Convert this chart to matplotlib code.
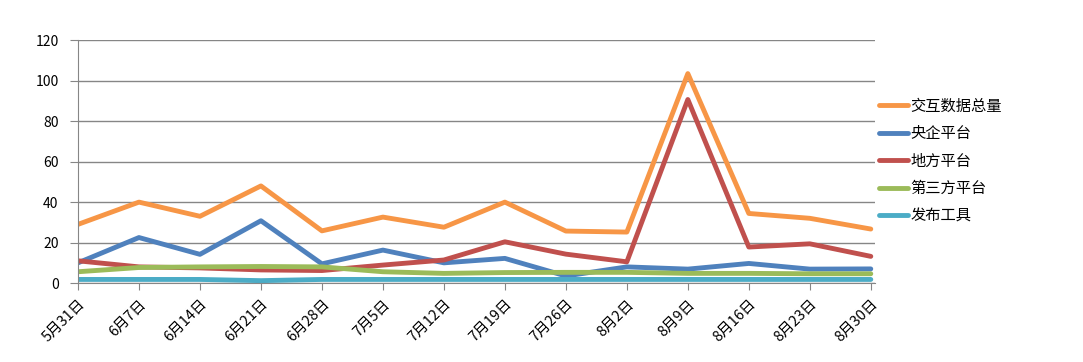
import matplotlib.pyplot as plt
import numpy as np

plt.rcParams['font.family'] = ['Noto Sans CJK SC', 'DejaVu Sans']

dates = ["5月31日", "6月7日", "6月14日", "6月21日", "6月28日", "7月5日", "7月12日",
         "7月19日", "7月26日", "8月2日", "8月9日", "8月16日", "8月23日", "8月30日"]

total = [29, 40, 33, 48, 25.8, 32.6, 27.6, 40, 25.7, 25.2, 103.5, 34.4, 32, 26.7]
central = [10, 22.5, 14.2, 30.8, 9.5, 16.3, 10, 12.2, 3.5, 8, 6.9, 9.7, 6.9, 7]
local = [11, 8, 7.5, 6.5, 6.2, 8.9, 11.4, 20.4, 14.3, 10.5, 90.7, 17.8, 19.4, 13.2]
third = [5.6, 7.7, 8, 8.2, 8, 5.6, 4.8, 5.2, 5.3, 5.3, 4.8, 4.8, 4.6, 4.6]
tools = [1.8, 1.8, 1.8, 1.2, 1.8, 1.8, 1.8, 1.8, 1.8, 1.8, 1.8, 1.8, 1.8, 1.8]

series = [
    ("交互数据总量", total, "#F79646"),
    ("央企平台", central, "#4F81BD"),
    ("地方平台", local, "#C0504D"),
    ("第三方平台", third, "#9BBB59"),
    ("发布工具", tools, "#4BACC6"),
]

fig = plt.figure(figsize=(10.83, 3.62), dpi=100)
ax = fig.add_axes([0.072, 0.218, 0.736, 0.671])

x = np.arange(len(dates))
for name, vals, col in series:
    ax.plot(x, vals, color=col, lw=3.5, label=name, solid_capstyle="round")

ax.set_ylim(0, 120)
ax.set_yticks(np.arange(0, 121, 20))
ax.set_xlim(0, 13.07)
ax.set_xticks(x)
ax.set_xticklabels(dates, rotation=45, ha="right", va="top", rotation_mode="anchor",
                   fontsize=10.5)
ax.tick_params(axis="y", labelsize=10, length=6, color="#868686", pad=8)
ax.tick_params(axis="x", length=5, color="#868686", pad=5)

ax.grid(axis="y", color="#868686", lw=1)
ax.set_axisbelow(True)
for s in ["top", "right"]:
    ax.spines[s].set_visible(False)
ax.spines["left"].set_color("#868686")
ax.spines["bottom"].set_color("#868686")

leg = fig.legend(loc="center left", bbox_to_anchor=(0.806, 0.555), frameon=False,
                 fontsize=11, handlelength=1.9, handletextpad=0.15,
                 labelspacing=0.68, borderaxespad=0)

fig.savefig("out.png", dpi=100)
